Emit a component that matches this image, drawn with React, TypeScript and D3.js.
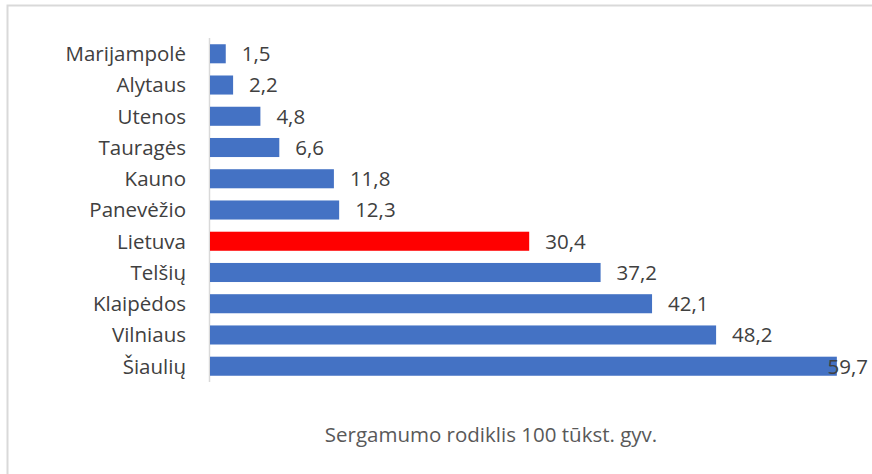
import React from "react";
import * as d3 from "d3";

const categories = ["Marijampolė", "Alytaus", "Utenos", "Tauragės", "Kauno", "Panevėžio", "Lietuva", "Telšių", "Klaipėdos", "Vilniaus", "Šiaulių"];
const values = [1.5, 2.2, 4.8, 6.6, 11.8, 12.3, 30.4, 37.2, 42.1, 48.2, 59.7];
const highlight = ["Lietuva"];
const axisTitle = "Sergamumo rodiklis 100 tūkst. gyv.";

const W = 872, H = 474;
const FONT = "'Open Sans', sans-serif";
const FS = 20.5;

export default function App() {
  const x = d3.scaleLinear().domain([0, 60]).range([210, 840]);
  const y = d3.scaleBand().domain(categories).range([38, 382]).paddingInner(0.39).paddingOuter(0.2);
  const fmt = (v: number) => v.toFixed(1).replace(".", ",");
  return (
    <svg width={W} height={H} style={{ position: "absolute", left: 0, top: 0, background: "#fff" }}>
      <rect x={7.5} y={5.5} width={900} height={500} fill="none" stroke="#d9d9d9" strokeWidth={2} />
      <line x1={209.5} x2={209.5} y1={38} y2={382} stroke="#d9d9d9" strokeWidth={1.5} />
      {categories.map((c, i) => {
        const v = values[i];
        const end = x(v);
        const yy = y(c)!;
        const bw = y.bandwidth();
        let lx = end + 16;
        let anchor = "start";
        if (lx + 46 > 868) { lx = 868; anchor = "end"; }
        return (
          <g key={c}>
            <rect x={x(0)} y={yy} width={end - x(0)} height={bw} fill={highlight.includes(c) ? "#FF0000" : "#4472C4"} />
            <text x={186} y={yy + bw / 2} dy="0.36em" textAnchor="end" fontFamily={FONT} fontSize={FS} fill="#404040">{c}</text>
            <text x={lx} y={yy + bw / 2} dy="0.36em" textAnchor={anchor} fontFamily={FONT} fontSize={FS} fill="#404040">{fmt(v)}</text>
          </g>
        );
      })}
      <text x={491} y={442} textAnchor="middle" fontFamily={FONT} fontSize={FS} fill="#595959">{axisTitle}</text>
    </svg>
  );
}
